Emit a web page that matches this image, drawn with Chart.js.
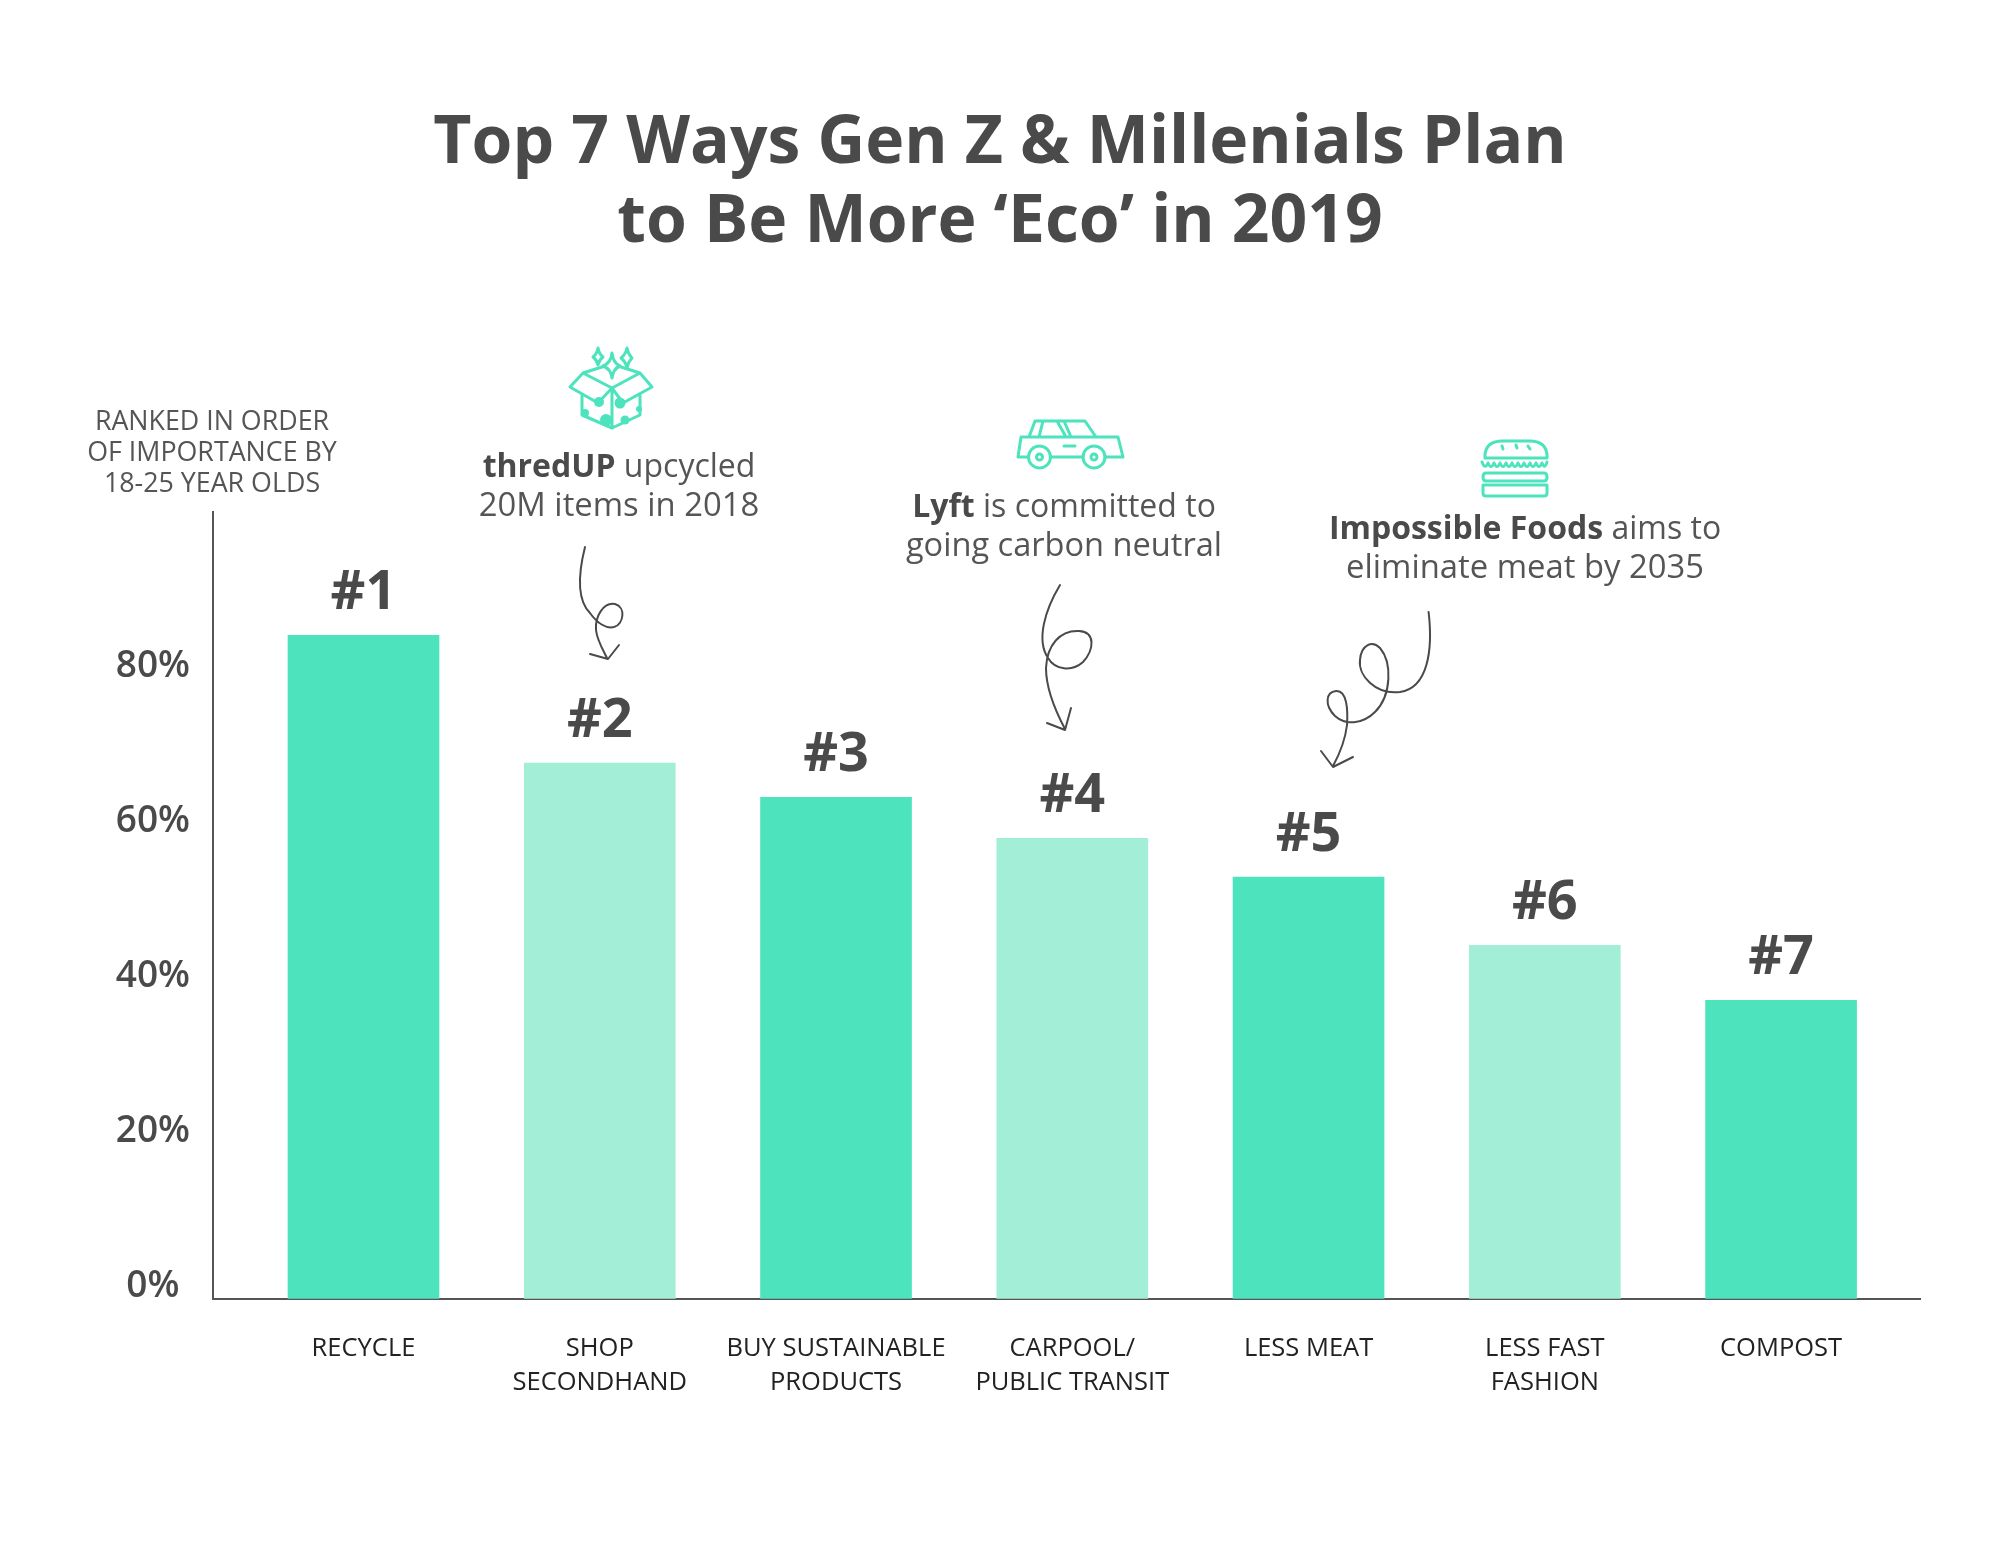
<!DOCTYPE html>
<html><head><meta charset="utf-8">
<style>html,body{margin:0;padding:0;background:#fff}canvas{display:block}</style>
<script src="https://cdn.jsdelivr.net/npm/chart.js@4"></script>
</head><body><canvas id="c" width="2000" height="1545"></canvas>
<script>
const titleLines = ["Top 7 Ways Gen Z & Millenials Plan", "to Be More \u2018Eco\u2019 in 2019"];
const categories = [["RECYCLE"],["SHOP","SECONDHAND"],["BUY SUSTAINABLE","PRODUCTS"],["CARPOOL/","PUBLIC TRANSIT"],["LESS MEAT"],["LESS FAST","FASHION"],["COMPOST"]];
const values = [85.6, 69.1, 64.7, 59.4, 54.4, 45.6, 38.5];
const ranks = ["#1","#2","#3","#4","#5","#6","#7"];
const barColors = ["#4de3bc","#a3eed6","#4de3bc","#a3eed6","#4de3bc","#a3eed6","#4de3bc"];
const yTicks = [0,20,40,60,80];
const FONT = '"Open Sans"';
const INK = "#4a4a4a";
const TEAL = "#4de3bc";
const notes = [
  {x:212, y:422, size:26.8, lines:[["", "RANKED IN ORDER"]]},
  {x:212, y:453, size:26.8, lines:[["", "OF IMPORTANCE BY"]]},
  {x:212, y:484, size:26.8, lines:[["", "18-25 YEAR OLDS"]]},
  {x:619, y:468, size:32, lines:[["thredUP", " upcycled"]]},
  {x:619, y:507, size:32.8, lines:[["", "20M items in 2018"]]},
  {x:1064, y:508, size:32, lines:[["Lyft", " is committed to"]]},
  {x:1064, y:547, size:32.6, lines:[["", "going carbon neutral"]]},
  {x:1525, y:530, size:32, lines:[["Impossible Foods", " aims to"]]},
  {x:1525, y:569, size:32.8, lines:[["", "eliminate meat by 2035"]]}
];
const arrowPaths = [
  "M585,547 C578,575 577,600 590,613 C597,623 606,629 614,627 C624,624 626,607 615,604 C603,602 595,617 596,630 C597,640 603,650 607,658 M590,654 L608,659 L619,645",
  "M1060,585 C1045,610 1036,640 1048,658 C1055,670 1072,672 1083,662 C1094,650 1096,632 1079,631 C1060,630 1047,645 1046,668 C1046,690 1056,712 1065,729 M1047,723 L1065,730 L1071,708",
  "M1428.6,612 C1433,650 1428,688 1400,692 C1375,695 1358,675 1360,660 C1361,645 1372,640 1380,648 C1392,662 1392,695 1375,712 C1362,725 1345,725 1335,716 C1324,705 1326,692 1336,691 C1347,690 1348,710 1347,725 C1345,742 1339,755 1333,766 M1321,751 L1333,767 L1353,757"
];
const iconStroke = [
  "M612,388 L583,373 L570,387 L598,403 Z M612,388 L640,373 L652,387 L623,403 Z M583,373 L605,366 M618,366 L640,373 M582,395 L582,415 L612,428 L640,415 L640,395 M612,388 L612,428",
  "M612,353 Q613,363 620,366 Q613,369 612,378 Q611,369 603,366 Q611,363 612,353 Z M598,348 Q599,354 603,357 Q599,360 598,365 Q597,360 593,357 Q597,354 598,348 Z M627,348 Q628,354 632,358 Q628,362 627,368 Q626,362 621,358 Q626,354 627,348 Z",
  "M1051,457 L1083,457 M1105,457 L1123,457 L1118,437 L1021,437 L1018,457 L1028,457 M1029,437 L1035,421 L1085,421 L1096,437 M1043,421 L1039,437 M1057,421 L1066,437 M1064,421 L1071,437 M1064,446 L1075,446",
  "M1050.5,457 A11,11 0 1 1 1028.5,457 A11,11 0 1 1 1050.5,457 Z M1105,457 A11,11 0 1 1 1083,457 A11,11 0 1 1 1105,457 Z M1042.5,457 A3,3 0 1 1 1036.5,457 A3,3 0 1 1 1042.5,457 Z M1097,457 A3,3 0 1 1 1091,457 A3,3 0 1 1 1097,457 Z",
  "M1485,458 L1485,454 Q1487,441 1502,441 L1530,441 Q1545,441 1547,454 L1547,458 Z M1502,446 L1503,449 M1516,445 L1517,448 M1528,446 L1530,449",
  "M1482,462 Q1485,470 1488,463 Q1491,470 1494,463 Q1497,470 1500,463 Q1503,470 1506,463 Q1509,470 1512,463 Q1515,470 1518,463 Q1521,470 1524,463 Q1527,470 1530,463 Q1533,470 1536,463 Q1539,470 1542,463 Q1545,470 1547,462",
  "M1486,473 L1544,473 Q1547,473 1547,477 Q1547,481 1544,481 L1486,481 Q1483,481 1483,477 Q1483,473 1486,473 Z M1483,485 L1547,485 L1547,493 Q1547,496 1544,496 L1486,496 Q1483,496 1483,493 Z"
];
const iconDots = [[599,402,5],[620,403,5.5],[585,413,4],[606,420,6],[625,420,4.5],[639,409,3]];

const decor = {
  id: "decor",
  afterDatasetsDraw(chart) {
    const ctx = chart.ctx;
    ctx.save();
    ctx.textBaseline = "middle";
    ctx.textAlign = "center";
    ctx.fillStyle = INK;
    ctx.font = `700 54px ${FONT}`;
    chart.getDatasetMeta(0).data.forEach((bar, i) => {
      ctx.fillText(ranks[i], bar.x, bar.y - 41.5);
    });
    ctx.textAlign = "left";
    notes.forEach(n => {
      n.lines.forEach(([b, r]) => {
        ctx.font = `700 ${n.size}px ${FONT}`;
        const bw = b ? ctx.measureText(b).width : 0;
        ctx.font = `400 ${n.size}px ${FONT}`;
        const rw = ctx.measureText(r).width;
        let x = n.x - (bw + rw) / 2;
        if (b) { ctx.font = `700 ${n.size}px ${FONT}`; ctx.fillText(b, x, n.y); x += bw; }
        ctx.font = `400 ${n.size}px ${FONT}`;
        ctx.fillStyle = "#555";
        ctx.fillText(r, x, n.y);
        ctx.fillStyle = INK;
      });
    });
    ctx.lineJoin = "round"; ctx.lineCap = "round";
    ctx.strokeStyle = INK; ctx.lineWidth = 2;
    arrowPaths.forEach(p => ctx.stroke(new Path2D(p)));
    ctx.strokeStyle = TEAL; ctx.lineWidth = 3;
    iconStroke.forEach(p => ctx.stroke(new Path2D(p)));
    ctx.fillStyle = TEAL;
    iconDots.forEach(([x,y,r]) => { ctx.beginPath(); ctx.arc(x,y,r,0,Math.PI*2); ctx.fill(); });
    ctx.restore();
  }
};

new Chart(document.getElementById("c"), {
  type: "bar",
  data: {
    datasets: [{
      data: values.map((v, i) => ({x: i, y: v})),
      backgroundColor: barColors,
      barThickness: 151
    }]
  },
  plugins: [decor],
  options: {
    responsive: false,
    animation: false,
    devicePixelRatio: 1,
    layout: {padding: 0},
    plugins: {
      legend: {display: false},
      tooltip: {enabled: false},
      title: {
        display: true,
        text: titleLines,
        color: INK,
        font: {family: FONT, size: 66, weight: 700, lineHeight: 79/66},
        padding: {top: 105, bottom: 249}
      }
    },
    scales: {
      x: {
        type: "linear",
        offset: false,
        min: -0.637, max: 6.588,
        grid: {display: false, drawTicks: false, offset: false},
        border: {display: true, color: "#555", width: 2},
        afterFit(s) { s.height = 246.3; },
        ticks: {
          stepSize: 1, autoSkip: false, maxRotation: 0, minRotation: 0, padding: 33,
          color: "#222",
          font: {family: FONT, size: 25.5, lineHeight: 34/25.5},
          callback: v => categories[v] || ""
        }
      },
      y: {
        min: 0, max: 101.5,
        grid: {display: false, drawTicks: false},
        border: {display: true, color: "#555", width: 2},
        afterFit(s) { s.width = 213; },
        ticks: {
          stepSize: 20, padding: 23, crossAlign: "center", labelOffset: -12.5,
          color: INK,
          font: {family: FONT, size: 37, weight: 600},
          callback: v => yTicks.includes(v) ? v + "%" : ""
        }
      },
      rightMargin: {
        type: "linear",
        position: "right",
        grid: {display: false, drawTicks: false},
        border: {display: false},
        ticks: {display: false},
        afterFit(s) { s.width = 80; }
      }
    }
  }
});
</script></body></html>
